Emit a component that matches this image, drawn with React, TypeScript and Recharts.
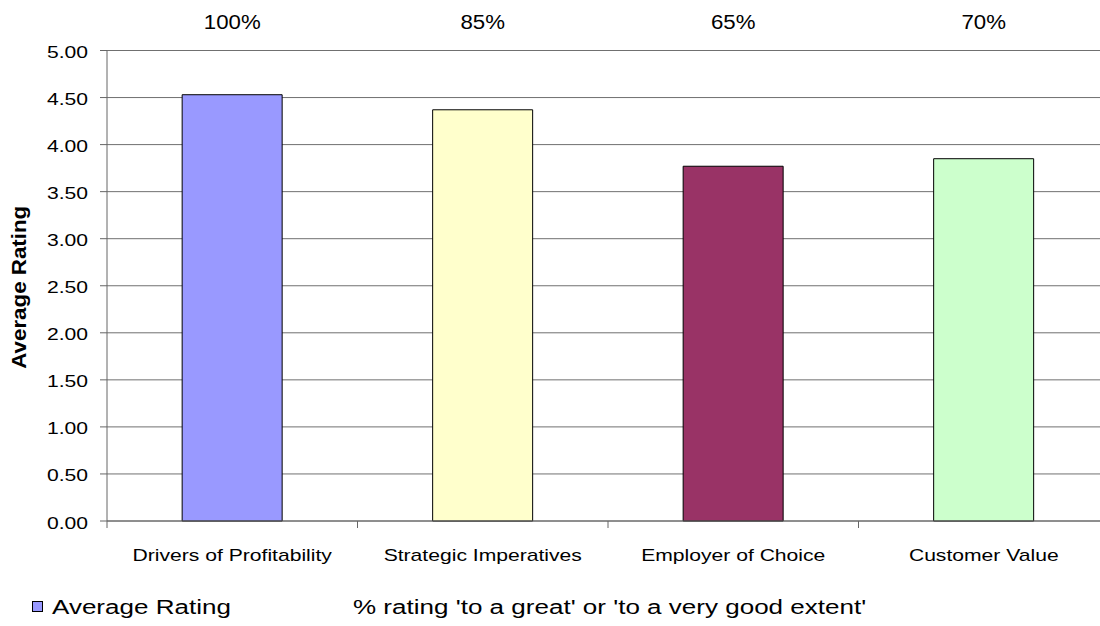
import React from 'react';
import { BarChart, Bar, XAxis, YAxis, CartesianGrid, Cell, Legend } from 'recharts';

const categories = ['Drivers of Profitability', 'Strategic Imperatives', 'Employer of Choice', 'Customer Value'];
const averageRating = [4.53, 4.37, 3.77, 3.85];
const pctGreatExtent = [100, 85, 65, 70];
const barColors = ['#9999FF', '#FFFFCC', '#993366', '#CCFFCC'];
const yTicks = [0, 0.5, 1, 1.5, 2, 2.5, 3, 3.5, 4, 4.5, 5];
const seriesName = 'Average Rating';
const pctSeriesName = "% rating 'to a great' or 'to a very good extent'";
const yAxisTitle = 'Average Rating';

const data = categories.map((c, i) => ({ category: c, rating: averageRating[i], pct: pctGreatExtent[i] }));

const FONT = '"Liberation Sans", Arial, sans-serif';
const AXIS = '#666666';
const BOTTOM_MARGIN = 40;

function SText(props: any) {
  const { x, y, children, size, sx = 1, anchor = 'start', weight = 'normal', rotate = 0 } = props;
  return (
    <text
      transform={`translate(${x},${y}) rotate(${rotate}) scale(${sx},1)`}
      x={0}
      y={0}
      textAnchor={anchor}
      fontSize={size}
      fontFamily={FONT}
      fontWeight={weight}
      fill="#000"
    >
      {children}
    </text>
  );
}

const YTick = (p: any) => (
  <SText x={p.x} y={p.y + 7.5} size={16} sx={1.32} anchor="end">
    {Number(p.payload.value).toFixed(2)}
  </SText>
);

const XTick = (p: any) => {
  const off = p.payload && typeof p.payload.offset === 'number' ? p.payload.offset : 0;
  const axisY = p.y - BOTTOM_MARGIN;
  return (
    <g>
      {off > 0 && (
        <line x1={p.x - off} x2={p.x - off} y1={axisY} y2={axisY + 7} stroke={AXIS} strokeWidth={1} />
      )}
      <SText x={p.x} y={p.y} size={16} sx={1.32} anchor="middle">
        {p.payload.value}
      </SText>
    </g>
  );
};

const TopTick = (p: any) => (
  <SText x={p.x} y={p.y} size={21} sx={1.06} anchor="middle">
    {`${pctGreatExtent[p.index]}%`}
  </SText>
);

const YLabel = (p: any) => {
  const vb = p.viewBox || { x: 0, y: 50, width: 107, height: 471 };
  return (
    <SText x={vb.x + 26} y={vb.y + vb.height / 2 + 1.5} size={20.5} sx={1.09} anchor="middle" weight="bold" rotate={-90}>
      {yAxisTitle}
    </SText>
  );
};

const renderLegend = (props: any) => {
  const item = props.payload && props.payload[0];
  return (
    <svg width={1100} height={40} style={{ display: 'block' }}>
      <rect x={32.5} y={15.5} width={10} height={10} fill={(item && item.color) || barColors[0]} stroke="#000" strokeWidth={1} />
      <SText x={52} y={28} size={21} sx={1.24}>
        {(item && item.value) || seriesName}
      </SText>
      <SText x={353} y={28} size={21} sx={1.24}>
        {pctSeriesName}
      </SText>
    </svg>
  );
};

export default function App() {
  return (
    <div style={{ position: 'absolute', left: 0, top: 0, width: 1100, height: 626, overflow: 'hidden', background: '#fff' }}>
      <BarChart width={1130} height={626} data={data} margin={{ top: 0.5, right: 21, bottom: 0, left: 0 }} barCategoryGap="30%">
        <CartesianGrid horizontal={true} vertical={false} stroke="#707070" strokeWidth={1} />
        <XAxis
          xAxisId="top"
          orientation="top"
          dataKey="category"
          height={50}
          axisLine={false}
          tickLine={false}
          tickSize={0}
          tickMargin={22}
          interval={0}
          tick={TopTick}
        />
        <XAxis
          dataKey="category"
          height={65}
          axisLine={{ stroke: AXIS, strokeWidth: 1 }}
          tickLine={false}
          tickSize={0}
          tickMargin={BOTTOM_MARGIN}
          interval={0}
          tick={XTick}
        />
        <YAxis
          type="number"
          domain={[0, 5]}
          ticks={yTicks}
          interval={0}
          width={107}
          tickSize={7}
          tickMargin={12}
          axisLine={{ stroke: AXIS, strokeWidth: 1 }}
          tickLine={{ stroke: AXIS, strokeWidth: 1 }}
          tick={YTick}
          label={{ content: YLabel }}
        />
        <Legend
          verticalAlign="bottom"
          align="left"
          content={renderLegend}
          wrapperStyle={{ left: 0, top: 586, width: 1100, height: 40, margin: 0, padding: 0 }}
        />
        <Bar dataKey="rating" name={seriesName} fill={barColors[0]} stroke="#000" strokeWidth={1} isAnimationActive={false}>
          {data.map((d, i) => (
            <Cell key={d.category} fill={barColors[i]} />
          ))}
        </Bar>
      </BarChart>
    </div>
  );
}
